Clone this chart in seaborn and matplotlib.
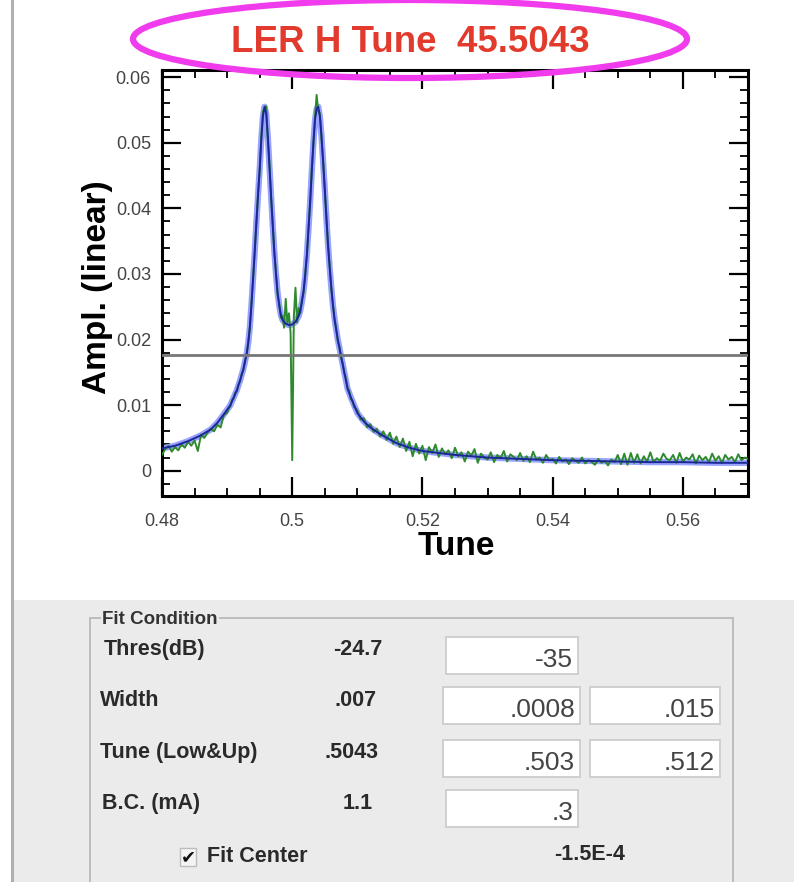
import matplotlib
matplotlib.use('Agg')
import matplotlib.pyplot as plt
import seaborn as sns
import numpy as np
import pandas as pd
from matplotlib.patches import Ellipse, Rectangle
from matplotlib.ticker import MultipleLocator, FuncFormatter
from matplotlib.lines import Line2D

# ---------------- data ----------------
TITLE = "LER H Tune  45.5043"
THRESHOLD = 0.0176

# fitted curve (tune, amplitude)
FIT_TUNE = [0.4800, 0.4820, 0.4840, 0.4860, 0.4875, 0.4885, 0.4895, 0.4905, 0.4915, 0.4920,
            0.4925, 0.4930, 0.49325, 0.4935, 0.49375, 0.4940, 0.49425, 0.4945, 0.49475, 0.4950,
            0.49525, 0.4955, 0.49575, 0.4960, 0.49625, 0.4965, 0.49675, 0.4970, 0.49725, 0.4975,
            0.49775, 0.4980, 0.49825, 0.4985, 0.4990, 0.4995, 0.5000, 0.5005, 0.5010, 0.50125,
            0.5015, 0.50175, 0.5020, 0.50225, 0.5025, 0.50275, 0.5030, 0.50325, 0.5035, 0.50375,
            0.5040, 0.50425, 0.5045, 0.50475, 0.5050, 0.50525, 0.5055, 0.50575, 0.5060, 0.50625,
            0.5065, 0.50675, 0.5070, 0.5075, 0.5080, 0.5085, 0.5090, 0.5100, 0.5110, 0.5120,
            0.5130, 0.5140, 0.5160, 0.5180, 0.5200, 0.5250, 0.5300, 0.5350, 0.5400, 0.5450,
            0.5500, 0.5550, 0.5600, 0.5650, 0.5700]
FIT_AMPL = [0.0034, 0.0038, 0.0045, 0.0054, 0.0063, 0.0073, 0.0086, 0.0100, 0.0123, 0.0138,
            0.0155, 0.0178, 0.0195, 0.0220, 0.0255, 0.0295, 0.0335, 0.0380, 0.0420, 0.0460,
            0.0505, 0.0540, 0.0555, 0.0545, 0.0510, 0.0465, 0.0420, 0.0375, 0.0335, 0.0300,
            0.0272, 0.0252, 0.0238, 0.0230, 0.0224, 0.0222, 0.0223, 0.0227, 0.0236, 0.0245,
            0.0258, 0.0275, 0.0298, 0.0330, 0.0368, 0.0410, 0.0455, 0.0500, 0.0535, 0.0552,
            0.0555, 0.0540, 0.0510, 0.0470, 0.0430, 0.0385, 0.0345, 0.0310, 0.0280, 0.0252,
            0.0232, 0.0215, 0.0200, 0.0175, 0.0150, 0.0125, 0.0112, 0.0088, 0.0075, 0.0066,
            0.0059, 0.0053, 0.0042, 0.0035, 0.0030, 0.0024, 0.0020, 0.0018, 0.0016, 0.0015,
            0.0014, 0.0013, 0.0013, 0.0012, 0.0012]

# measured spectrum, three sampled segments (start tune, step, amplitudes)
MEAS_A_START, MEAS_A_STEP = 0.4800, 0.0005
MEAS_A = [0.0024, 0.0033, 0.0038, 0.0029, 0.0036, 0.0031, 0.0040, 0.0035, 0.0044, 0.0038,
          0.0046, 0.0030, 0.0055, 0.0050, 0.0058, 0.0064, 0.0060, 0.0070, 0.0066, 0.0085]
MEAS_B_START, MEAS_B_STEP = 0.4900, 0.00025
MEAS_B = [0.0088, 0.0095, 0.0098, 0.0108, 0.0110, 0.0119, 0.0121, 0.0132, 0.0136, 0.0148,
          0.0153, 0.0168, 0.0176, 0.0197, 0.0218, 0.0258, 0.0292, 0.0338, 0.0377, 0.0424,
          0.0456, 0.0510, 0.0548, 0.0552, 0.0556, 0.0505, 0.0470, 0.0416, 0.0379, 0.0330,
          0.0304, 0.0268, 0.0256, 0.0233, 0.0236, 0.0218, 0.0262, 0.0225, 0.0240, 0.0210,
          0.0016, 0.0235, 0.0279, 0.0226, 0.0248, 0.0240, 0.0262, 0.0271, 0.0302, 0.0326,
          0.0372, 0.0406, 0.0460, 0.0497, 0.0540, 0.0573, 0.0548, 0.0545, 0.0505, 0.0474,
          0.0426, 0.0389, 0.0341, 0.0314, 0.0277, 0.0255, 0.0229, 0.0218, 0.0197, 0.0189,
          0.0172, 0.0164, 0.0148, 0.0141, 0.0126, 0.0122, 0.0109, 0.0107, 0.0097, 0.0095]
MEAS_C_START, MEAS_C_STEP = 0.5100, 0.0005
MEAS_C = [0.0092, 0.0078, 0.0080, 0.0066, 0.0071, 0.0059, 0.0064, 0.0052, 0.0060, 0.0047,
          0.0058, 0.0041, 0.0052, 0.0036, 0.0049, 0.0030, 0.0044, 0.0022, 0.0041, 0.0026,
          0.0038, 0.0016, 0.0036, 0.0027, 0.0040, 0.0021, 0.0034, 0.0025, 0.0031, 0.0019,
          0.0035, 0.0022, 0.0028, 0.0014, 0.0029, 0.0023, 0.0033, 0.0012, 0.0026, 0.0020,
          0.0017, 0.0028, 0.0013, 0.0024, 0.0019, 0.0030, 0.0014, 0.0025, 0.0021, 0.0016,
          0.0027, 0.0015, 0.0022, 0.0013, 0.0029, 0.0017, 0.0020, 0.0012, 0.0024, 0.0016,
          0.0018, 0.0011, 0.0021, 0.0014, 0.0017, 0.0010, 0.0019, 0.0015, 0.0012, 0.0020,
          0.0011, 0.0016, 0.0013, 0.0009, 0.0018, 0.0012, 0.0015, 0.0008, 0.0017, 0.0013,
          0.0024, 0.0010, 0.0026, 0.0009, 0.0027, 0.0012, 0.0025, 0.0011, 0.0022, 0.0014,
          0.0028, 0.0013, 0.0019, 0.0015, 0.0026, 0.0018, 0.0016, 0.0024, 0.0012, 0.0027,
          0.0014, 0.0020, 0.0017, 0.0025, 0.0011, 0.0023, 0.0016, 0.0021, 0.0013, 0.0026,
          0.0015, 0.0022, 0.0012, 0.0024, 0.0017, 0.0021, 0.0013, 0.0025, 0.0016, 0.0020,
          0.0018]

X_TICKS = [0.48, 0.50, 0.52, 0.54, 0.56]
Y_TICKS = [0.00, 0.01, 0.02, 0.03, 0.04, 0.05, 0.06]

# panel rows: label, current value, box entries
PANEL_ROWS = [
    ("Thres(dB)", "-24.7", ["-35"]),
    ("Width", ".007", [".0008", ".015"]),
    ("Tune (Low&Up)", ".5043", [".503", ".512"]),
    ("B.C. (mA)", "1.1", [".3"]),
]
FIT_CENTER_VALUE = "-1.5E-4"

# ---------------- build frames ----------------
def segment(start, step, vals):
    return pd.DataFrame({"tune": start + step * np.arange(len(vals)), "ampl": vals})

meas = pd.concat([segment(MEAS_A_START, MEAS_A_STEP, MEAS_A),
                  segment(MEAS_B_START, MEAS_B_STEP, MEAS_B),
                  segment(MEAS_C_START, MEAS_C_STEP, MEAS_C)], ignore_index=True)
fit = pd.DataFrame({"tune": FIT_TUNE, "ampl": FIT_AMPL})

# ---------------- figure ----------------
sns.set_style("ticks")
plt.rcParams['font.family'] = ['Liberation Sans', 'DejaVu Sans']

W, H = 794, 882
fig = plt.figure(figsize=(W / 100, H / 100), dpi=100)
fig.patch.set_facecolor('white')

def fx(x):
    return x / W

def fy(y):
    return 1 - y / H

# GUI background panel & window border
fig.add_artist(Rectangle((fx(12), 0), 1 - fx(12), fy(600), transform=fig.transFigure,
                         facecolor='#ebebeb', edgecolor='none', zorder=0))
fig.add_artist(Line2D([fx(12), fx(12)], [0, 1], transform=fig.transFigure,
                      color='#b0b0b0', lw=2.2, zorder=1))

ax = fig.add_axes([fx(162), fy(496), (748 - 162) / W, (496 - 70) / H])
ax.set_facecolor('white')

sns.lineplot(data=fit, x="tune", y="ampl", ax=ax, color='#9aa2ff', lw=4.5,
             estimator=None, sort=False, zorder=2)
sns.lineplot(data=meas, x="tune", y="ampl", ax=ax, color='#2f8a2f', lw=1.4,
             estimator=None, sort=False, zorder=3)
sns.lineplot(data=fit, x="tune", y="ampl", ax=ax, color='#1c2796', lw=1.4,
             estimator=None, sort=False, zorder=4)
ax.axhline(THRESHOLD, color='#777777', lw=2.0, zorder=5)

ax.set_xlim(0.48, 0.57)
ax.set_ylim(-0.00386, 0.0611)
ax.set_xticks(X_TICKS)
ax.set_yticks(Y_TICKS)
fmt = FuncFormatter(lambda v, p: "%g" % round(v, 4))
ax.xaxis.set_major_formatter(fmt)
ax.yaxis.set_major_formatter(fmt)
ax.xaxis.set_minor_locator(MultipleLocator(0.005))
ax.yaxis.set_minor_locator(MultipleLocator(0.002))
ax.tick_params(which='both', direction='in', top=True, right=True, color='black')
ax.tick_params(which='major', length=14, width=1.6)
ax.tick_params(which='minor', length=6, width=1.3)
ax.tick_params(axis='x', which='major', pad=12, labelsize=13, labelcolor='#444444')
ax.tick_params(axis='y', which='major', pad=8, labelsize=13, labelcolor='#444444')
for s in ax.spines.values():
    s.set_linewidth(2.2)
    s.set_color('black')

ax.set_xlabel("Tune", fontsize=24, fontweight='bold', color='black')
ax.set_ylabel("Ampl. (linear)", fontsize=24, fontweight='bold', color='black')
ax.xaxis.set_label_coords((456 - 162) / 586, (496 - 531) / 426)
ax.yaxis.set_label_coords((113 - 162) / 586, (496 - 287) / 426)

# title and highlight ellipse
fig.text(fx(410), fy(43), TITLE, color='#e23a2c', fontsize=26.5, fontweight='bold',
         ha='center', va='center')
fig.add_artist(Ellipse((fx(410), fy(39)), width=(687 - 133) / W, height=78 / H,
                       transform=fig.transFigure, facecolor='none',
                       edgecolor='#f03cec', lw=4.5, zorder=10))

# Fit condition group box
fig.add_artist(Rectangle((fx(90), fy(890)), (733 - 90) / W, (890 - 618) / H,
                         transform=fig.transFigure, facecolor='none',
                         edgecolor='#b9b9b9', lw=1.3, zorder=2))
fig.text(fx(102), fy(624), "Fit Condition", fontsize=13.5, fontweight='bold',
         color='#333333', ha='left', va='baseline',
         bbox=dict(facecolor='#ebebeb', edgecolor='none', pad=1.0), zorder=3)

LABEL_FS = 15.5
row_base = [655, 706, 758, 809]
label_x = [104, 100, 100, 102]
value_cx = [358, 356, 351, 358]
box_left = [[446], [443, 590], [443, 590], [446]]
box_right = [[578], [580, 720], [580, 720], [578]]
box_y = [(637, 674), (687, 724), (740, 777), (790, 827)]

for i, (lab, val, entries) in enumerate(PANEL_ROWS):
    fig.text(fx(label_x[i]), fy(row_base[i]), lab, fontsize=LABEL_FS, fontweight='bold',
             color='#2a2a2a', ha='left', va='baseline')
    fig.text(fx(value_cx[i]), fy(row_base[i]), val, fontsize=LABEL_FS, fontweight='bold',
             color='#2a2a2a', ha='center', va='baseline')
    y0, y1 = box_y[i]
    for j, ent in enumerate(entries):
        l, r = box_left[i][j], box_right[i][j]
        fig.add_artist(Rectangle((fx(l), fy(y1)), (r - l) / W, (y1 - y0) / H,
                                 transform=fig.transFigure, facecolor='white',
                                 edgecolor='#cdcdcd', lw=1.3, zorder=2))
        fig.text(fx(r - 5), fy(y1 - 7), ent, fontsize=19, color='#444444',
                 ha='right', va='baseline', zorder=3)

# checkbox
fig.add_artist(Rectangle((fx(180), fy(866)), 16 / W, 18 / H, transform=fig.transFigure,
                         facecolor='#f4f4f4', edgecolor='#bdbdbd', lw=1.0, zorder=2))
fig.text(fx(188), fy(857), "\u2714", fontsize=13, color='#111111', ha='center',
         va='center', family=['DejaVu Sans'], zorder=3)
fig.text(fx(207), fy(862), "Fit Center", fontsize=LABEL_FS, fontweight='bold',
         color='#2a2a2a', ha='left', va='baseline')
fig.text(fx(590), fy(860), FIT_CENTER_VALUE, fontsize=LABEL_FS, fontweight='bold',
         color='#2a2a2a', ha='center', va='baseline')

fig.savefig("out.png", dpi=100, facecolor=fig.get_facecolor())
